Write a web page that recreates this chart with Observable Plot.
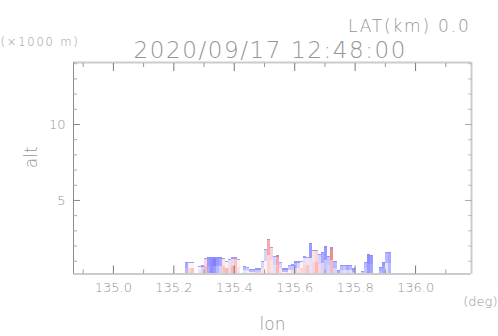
<!DOCTYPE html>
<html><head><meta charset="utf-8">
<script src="https://cdn.jsdelivr.net/npm/d3@7"></script>
<script src="https://cdn.jsdelivr.net/npm/@observablehq/plot@0.6"></script>
<style>body{margin:0;background:#fff} svg text{font-weight:200}</style>
</head><body><div id="chart"></div>
<script>
// column start longitude (deg), echo top (km), lower-half value, upper-half value (-1 blue .. +1 red)
const lon = [135.24,135.25,135.26,135.28,135.29,135.30,135.31,135.32,135.33,135.34,135.35,135.36,135.37,135.38,135.39,135.40,135.41,
  135.43,135.44,135.45,135.46,135.47,135.48,135.49,135.50,135.51,135.52,135.53,135.54,135.55,135.56,135.57,135.58,135.59,
  135.60,135.61,135.62,135.63,135.64,135.65,135.66,135.67,135.68,135.69,135.70,135.71,135.72,135.73,135.74,135.75,135.76,
  135.77,135.78,135.79,135.82,135.83,135.84,135.85,135.88,135.89,135.90,135.91];
const echoTop = [0.94,0.94,0.94,0.65,0.70,1.20,1.22,1.22,1.22,1.22,1.22,1.20,1.00,1.10,1.22,1.22,1.10,
  0.68,0.60,0.45,0.45,0.50,0.50,1.00,1.80,2.45,1.90,1.30,1.35,0.90,0.50,0.50,0.75,0.76,
  0.95,0.95,1.00,1.29,1.25,2.15,1.70,1.70,1.45,1.60,1.95,1.30,1.88,1.00,0.40,0.72,0.72,
  0.72,0.72,0.50,0.35,0.90,1.45,1.40,0.60,0.90,1.60,1.60];
const low = [-0.5,0.3,0.4,0.2,-0.3,0.5,-0.6,-0.8,-0.7,-0.5,-0.3,0.4,0.5,0.3,0.5,0.4,0.2,
  -0.2,0.1,0.2,0.2,0.4,0.3,0.2,0.1,0.3,0.2,-0.2,0.5,0.2,0.1,0.2,0.1,0.3,
  -0.3,0.2,0.3,0.3,0.4,-0.2,0.3,0.5,0.3,-0.3,-0.4,-0.3,0.5,-0.3,-0.3,-0.3,-0.2,
  -0.3,-0.2,-0.4,-0.4,-0.4,-0.7,-0.6,-0.5,-0.6,-0.2,-0.5];
const up = [-0.6,0.1,0.1,-0.1,-0.3,0.3,-0.7,-0.8,-0.9,-0.7,-0.6,0.2,0.1,-0.2,0.3,0.4,0.1,
  -0.5,-0.3,-0.5,-0.5,-0.4,-0.4,-0.3,-0.3,0.6,0.3,-0.3,0.6,-0.3,-0.5,-0.5,-0.4,-0.4,
  -0.5,-0.3,0.1,-0.2,0.2,-0.7,0.2,0.3,-0.3,-0.6,-0.7,-0.4,0.8,-0.5,-0.6,-0.5,-0.4,
  -0.6,-0.5,-0.6,-0.4,-0.5,-0.8,-0.7,-0.6,-0.7,-0.5,-0.6];
const xTicksLabeled = [135.0,135.2,135.4,135.6,135.8,136.0];
const xTicksMinor = [134.9,135.1,135.3,135.5,135.7,135.9,136.1];
const yTicksLabeled = [5,10];
const yTicksMinor = [1,2,3,4,6,7,8,9,11,12,13,14];
const xDomain = [134.868, 136.185];
const yDomain = [0.16, 14.08];
const base = 0;
const dLon = 0.01;

const cells = [];
lon.forEach((l, i) => {
  const mid = base + (echoTop[i] - base) * 0.55;
  cells.push({x1: l, x2: l + dLon, y1: base, y2: mid, v: low[i]});
  cells.push({x1: l, x2: l + dLon, y1: mid, y2: echoTop[i], v: up[i]});
});
const edges = lon.map((l, i) => ({x1: l, x2: l + dLon, y1: echoTop[i] - 0.08, y2: echoTop[i]}));

const gray = "#959595";
const font = "DejaVu Sans";
const chart = Plot.plot({
  width: 498, height: 336,
  marginLeft: 73, marginRight: 27, marginTop: 62, marginBottom: 62.5,
  style: {fontFamily: font, color: gray, background: "#fff"},
  x: {domain: xDomain},
  y: {domain: yDomain},
  color: {type: "linear", domain: [-1, 1], interpolate: d3.piecewise(d3.interpolateRgb, ["#7070ff", "#ffffff", "#f07070"])},
  marks: [
    Plot.rect(cells, {x1: "x1", x2: "x2", y1: "y1", y2: "y2", fill: "v", clip: true, inset: 0, shapeRendering: "crispEdges"}),
    Plot.rect(edges, {x1: "x1", x2: "x2", y1: "y1", y2: "y2", fill: "#8c8cff", fillOpacity: 0.8, clip: true, inset: 0, shapeRendering: "crispEdges"}),
    Plot.ruleY([yDomain[1]], {stroke: "#cccccc", strokeWidth: 2}),
    Plot.ruleY([yDomain[0]], {stroke: "#cccccc", strokeWidth: 2}),
    Plot.ruleX([xDomain[1]], {stroke: "#cccccc", strokeWidth: 2}),
    Plot.ruleX([xDomain[0]], {stroke: "#8c8c8c", strokeWidth: 1}),
    Plot.axisX({anchor: "bottom", ticks: xTicksLabeled, tickSize: -8, text: null, stroke: "#777"}),
    Plot.axisX({anchor: "bottom", ticks: xTicksMinor, tickSize: -4, text: null, stroke: "#999"}),
    Plot.axisX({anchor: "top", ticks: xTicksLabeled, tickSize: -8, text: null, stroke: "#777"}),
    Plot.axisX({anchor: "top", ticks: xTicksMinor, tickSize: -4, text: null, stroke: "#999"}),
    Plot.axisY({anchor: "left", ticks: yTicksLabeled, tickSize: -7, text: null, stroke: "#888"}),
    Plot.axisY({anchor: "left", ticks: yTicksMinor, tickSize: -4, text: null, stroke: "#aaa"}),
    Plot.axisY({anchor: "right", ticks: yTicksLabeled, tickSize: -7, text: null, stroke: "#aaa"}),
    Plot.axisY({anchor: "right", ticks: yTicksMinor, tickSize: -4, text: null, stroke: "#bbb"}),
    Plot.axisX({anchor: "bottom", ticks: xTicksLabeled, tickSize: 0, tickPadding: 9, tickFormat: d3.format(".1f"), fontSize: 13, label: null, fill: gray}),
    Plot.axisY({anchor: "left", ticks: yTicksLabeled, tickSize: 0, tickPadding: 8, fontSize: 13, label: null, fill: gray}),
    Plot.text(["LAT(km) 0.0"], {frameAnchor: "top-right", dx: -1, dy: -42.5, textAnchor: "end", fontSize: 17, fill: gray, text: d => d}),
    Plot.text(["2020/09/17 12:48:00"], {frameAnchor: "top-left", dx: 60, dy: -20.4, textAnchor: "start", fontSize: 23, fill: gray, text: d => d}),
    Plot.text(["(×1000 m)"], {frameAnchor: "top-left", dx: -73, dy: -24.5, textAnchor: "start", fontSize: 11.5, fill: gray, text: d => d}),
    Plot.text(["alt"], {frameAnchor: "left", dx: -42.4, dy: 0, rotate: -90, fontSize: 17, fill: gray, text: d => d}),
    Plot.text(["lon"], {frameAnchor: "bottom", dx: 0, dy: 56, fontSize: 17, fill: gray, text: d => d}),
    Plot.text(["(deg)"], {frameAnchor: "bottom-right", dx: 26, dy: 32.3, textAnchor: "end", fontSize: 13, fill: gray, text: d => d})
  ]
});
chart.querySelectorAll("text").forEach(t => {
  const s = t.textContent;
  if (s.startsWith("2020")) t.setAttribute("letter-spacing", "1.6");
  if (s.startsWith("(×")) t.setAttribute("letter-spacing", "1.8");
  if (s.startsWith("LAT")) t.setAttribute("letter-spacing", "1.8");
});
document.getElementById("chart").append(chart);
</script></body></html>
